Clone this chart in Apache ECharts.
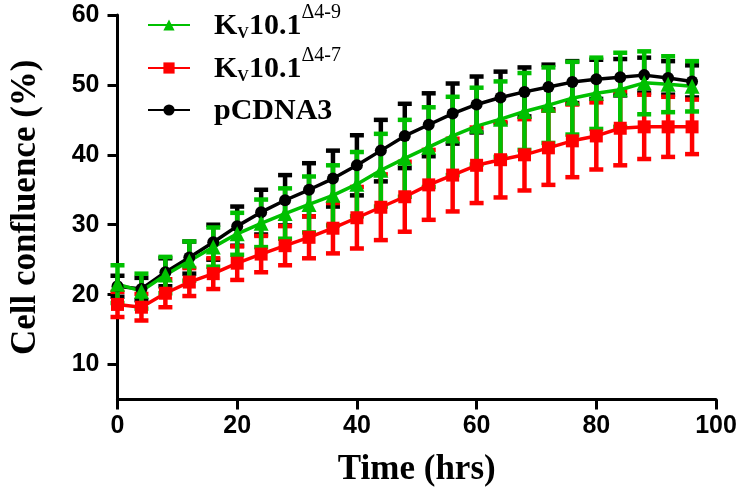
<!DOCTYPE html>
<html>
<head>
<meta charset="utf-8">
<script src="https://cdn.jsdelivr.net/npm/echarts@6/dist/echarts.min.js"></script>
<style>
  html, body { margin: 0; padding: 0; background: #ffffff; }
  #chart { width: 742px; height: 499px; }
</style>
</head>
<body>
<div id="chart"></div>
<script>
// Sampling times (hours)
const hours = [0, 4, 8, 12, 16, 20, 24, 28, 32, 36, 40, 44, 48, 52, 56, 60, 64, 68, 72, 76, 80, 84, 88, 92, 96];

// Kv10.1 Δ4-9 : mean confluence and error (%)
const d49Mean = [21.5, 20.5, 22.8, 24.8, 26.8, 28.7, 30.2, 31.6, 32.9, 34.2, 35.8, 37.8, 39.5, 41.1, 42.7, 44.1, 45.1, 46.2, 47.1, 48.1, 48.8, 49.3, 50.3, 50.1, 49.8];
const d49Err  = [2.7, 2.5, 2.6, 2.8, 2.8, 3.0, 3.4, 3.6, 4.0, 4.3, 4.6, 5.2, 5.5, 5.7, 5.6, 5.5, 5.4, 5.5, 5.4, 5.2, 5.1, 5.3, 4.5, 4.0, 3.6];

// Kv10.1 Δ4-7
const d47Mean = [18.6, 18.2, 20.2, 21.8, 23.0, 24.5, 25.8, 27.0, 28.2, 29.5, 31.0, 32.5, 34.0, 35.7, 37.1, 38.5, 39.3, 40.0, 41.0, 42.0, 42.7, 43.8, 44.0, 44.0, 44.0];
const d47Err  = [1.8, 1.9, 2.0, 2.0, 2.2, 2.4, 2.6, 2.8, 3.0, 3.6, 4.4, 4.7, 5.0, 5.0, 5.2, 5.4, 5.4, 5.1, 5.3, 5.2, 4.8, 5.3, 4.6, 4.3, 3.9];

// pCDNA3 control
const ctrlMean = [21.2, 20.8, 23.2, 25.3, 27.5, 29.8, 31.8, 33.5, 35.0, 36.6, 38.5, 40.6, 42.7, 44.3, 45.9, 47.2, 48.2, 49.0, 49.7, 50.4, 50.8, 51.1, 51.4, 51.0, 50.5];
const ctrlErr  = [1.5, 1.6, 2.0, 2.3, 2.5, 2.8, 3.2, 3.6, 3.8, 4.0, 4.3, 4.4, 4.6, 4.5, 4.3, 4.0, 3.7, 3.5, 3.2, 3.0, 2.8, 2.6, 2.5, 2.4, 2.3];

const xTicks = [0, 20, 40, 60, 80, 100];
const yTicks = [10, 20, 30, 40, 50, 60];

const seriesNames = ['Kv10.1\u03944-9', 'Kv10.1\u03944-7', 'pCDNA3'];
const legendRich = {
  'Kv10.1\u03944-9': '{k|K}{sub|V}{k|10.1}{sup|\u03944-9}',
  'Kv10.1\u03944-7': '{k|K}{sub|V}{k|10.1}{sup|\u03944-7}',
  'pCDNA3': '{k|pCDNA3}'
};

const GREEN = '#00c000';
const RED = '#ff0000';
const BLACK = '#000000';

function points(mean) {
  return hours.map((h, i) => [h, mean[i]]);
}
function ranges(mean, err) {
  return hours.map((h, i) => [h, mean[i] - err[i], mean[i] + err[i]]);
}

// Vertical error bar with flat caps
function errorBar(color) {
  return function (params, api) {
    const x = api.value(0);
    const lo = api.coord([x, api.value(1)]);
    const hi = api.coord([x, api.value(2)]);
    const half = 7;
    const style = { stroke: color, lineWidth: 4.5, fill: null };
    return {
      type: 'group',
      children: [
        { type: 'line', shape: { x1: hi[0], y1: hi[1], x2: lo[0], y2: lo[1] }, style: style },
        { type: 'line', shape: { x1: hi[0] - half, y1: hi[1], x2: hi[0] + half, y2: hi[1] }, style: style },
        { type: 'line', shape: { x1: lo[0] - half, y1: lo[1], x2: lo[0] + half, y2: lo[1] }, style: style }
      ]
    };
  };
}

function errSeries(mean, err, color) {
  return {
    type: 'custom',
    renderItem: errorBar(color),
    data: ranges(mean, err),
    encode: { x: 0, y: [1, 2] },
    silent: true
  };
}
function lineSeries(name, mean, color, symbol, size) {
  return {
    name: name,
    type: 'line',
    data: points(mean),
    symbol: symbol,
    symbolSize: size,
    showAllSymbol: true,
    itemStyle: { color: color },
    lineStyle: { color: color, width: 3.5 }
  };
}

// Legend text: bold serif with subscript "V" and superscript deletion label
const legendText = {
  padding: [0, 0, 0, 19],
  rich: {
    k:   { fontFamily: 'Liberation Serif', fontWeight: 'bold',   fontSize: 30, color: '#000', padding: [14, 0, 12, 0] },
    sub: { fontFamily: 'Liberation Serif', fontWeight: 'bold',   fontSize: 16, color: '#000', padding: [29, 0, 11, 0] },
    sup: { fontFamily: 'Liberation Serif', fontWeight: 'normal', fontSize: 20, color: '#000', padding: [6, 0, 30, 0] }
  }
};
function legendItem(name, top) {
  return {
    orient: 'vertical',
    left: 147,
    top: top,
    padding: 0,
    itemWidth: 42,
    itemHeight: 14,
    data: [name],
    formatter: n => legendRich[n],
    textStyle: legendText
  };
}

const chart = echarts.init(document.getElementById('chart'), null, { renderer: 'canvas' });
chart.setOption({
  animation: false,
  backgroundColor: '#ffffff',
  grid: { left: 117.5, right: 26, top: 15, bottom: 99.5, containLabel: false },
  legend: [
    legendItem(seriesNames[0], 3),
    legendItem(seriesNames[1], 46),
    legendItem(seriesNames[2], 96)
  ],
  xAxis: {
    type: 'value',
    min: 0,
    max: 100,
    interval: 20,
    name: 'Time (hrs)',
    nameLocation: 'middle',
    nameGap: 53,
    nameTextStyle: { fontFamily: 'Liberation Serif', fontWeight: 'bold', fontSize: 35, color: '#000' },
    axisLine: { show: true, onZero: false, lineStyle: { color: '#000', width: 3 } },
    axisTick: { show: true, inside: false, length: 10, lineStyle: { color: '#000', width: 3 } },
    axisLabel: {
      margin: 14,
      fontFamily: 'Liberation Sans', fontWeight: 'bold', fontSize: 25, color: '#000',
      customValues: xTicks
    },
    splitLine: { show: false }
  },
  yAxis: {
    type: 'value',
    min: 5,
    max: 60,
    name: 'Cell confluence (%)',
    nameLocation: 'middle',
    nameGap: 74,
    nameTextStyle: { fontFamily: 'Liberation Serif', fontWeight: 'bold', fontSize: 35, color: '#000' },
    axisLine: { show: true, onZero: false, lineStyle: { color: '#000', width: 3 } },
    axisTick: { show: true, inside: false, length: 10, lineStyle: { color: '#000', width: 3 }, customValues: yTicks },
    axisLabel: {
      margin: 18,
      fontFamily: 'Liberation Sans', fontWeight: 'bold', fontSize: 25, color: '#000',
      customValues: yTicks
    },
    splitLine: { show: false }
  },
  series: [
    errSeries(ctrlMean, ctrlErr, BLACK),
    lineSeries('pCDNA3', ctrlMean, BLACK, 'circle', 12),
    errSeries(d47Mean, d47Err, RED),
    lineSeries('Kv10.1\u03944-7', d47Mean, RED, 'rect', 13),
    errSeries(d49Mean, d49Err, GREEN),
    lineSeries('Kv10.1\u03944-9', d49Mean, GREEN, 'triangle', 15)
  ]
});
</script>
</body>
</html>
